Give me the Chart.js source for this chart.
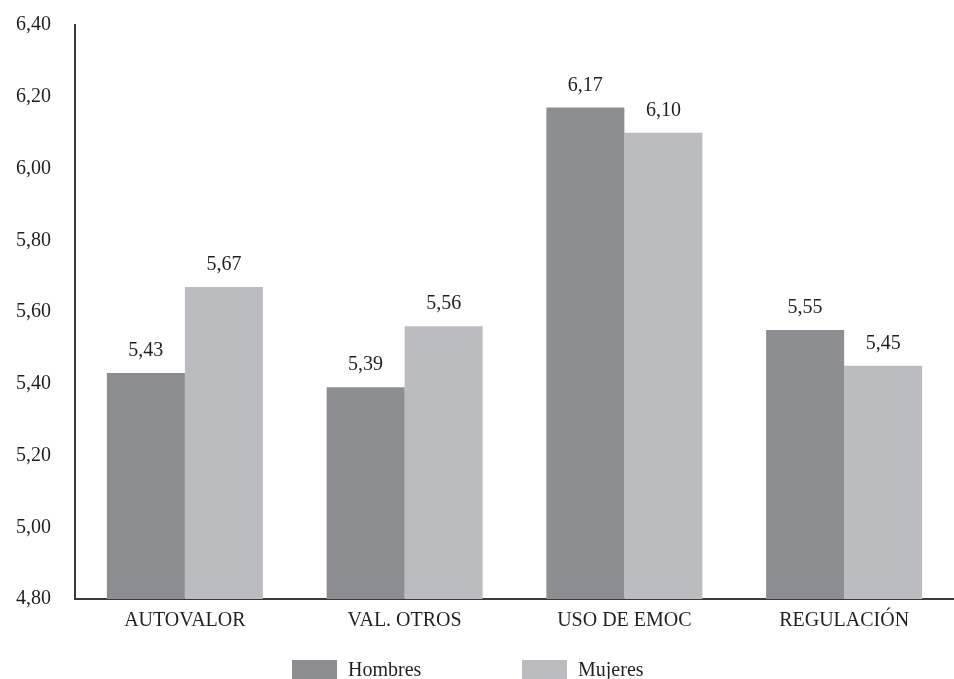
<!DOCTYPE html>
<html>
<head>
<meta charset="utf-8">
<script src="https://cdn.jsdelivr.net/npm/chart.js@4/dist/chart.umd.min.js"></script>
<style>
  html, body { margin: 0; padding: 0; background: #ffffff; }
  #wrap { width: 954px; height: 679px; position: relative; }
</style>
</head>
<body>
<div id="wrap"><canvas id="c" width="954" height="679"></canvas></div>
<script>
// Dimensions of emotional intelligence, mean scores by sex
const categories = ['AUTOVALOR', 'VAL. OTROS', 'USO DE EMOC', 'REGULACIÓN'];
const hombres = [5.43, 5.39, 6.17, 5.55];
const mujeres = [5.67, 5.56, 6.10, 5.45];
const seriesNames = ['Hombres', 'Mujeres'];
const yMin = 4.80, yMax = 6.40, yStep = 0.20;

const FONT = '"Liberation Serif"';
Chart.defaults.font.family = FONT;
const fmt = v => Number(v).toFixed(2).replace('.', ',');

// Value labels above each bar
const valueLabels = {
  id: 'valueLabels',
  afterDatasetsDraw(chart) {
    const ctx = chart.ctx;
    ctx.save();
    ctx.font = '20px ' + FONT;
    ctx.fillStyle = '#231f20';
    ctx.textAlign = 'center';
    ctx.textBaseline = 'alphabetic';
    chart.data.datasets.forEach((ds, i) => {
      chart.getDatasetMeta(i).data.forEach((bar, j) => {
        ctx.fillText(fmt(ds.data[j]), bar.x, bar.y - 17);
      });
    });
    ctx.restore();
  }
};

// Legend row under the category labels
const bottomLegend = {
  id: 'bottomLegend',
  afterDraw(chart) {
    const ctx = chart.ctx;
    const starts = [292, 522];
    ctx.save();
    ctx.font = '20px ' + FONT;
    ctx.textBaseline = 'middle';
    ctx.textAlign = 'left';
    chart.data.datasets.forEach((ds, i) => {
      const x = starts[i];
      ctx.fillStyle = ds.backgroundColor;
      ctx.fillRect(x, 660, 45, 20);
      ctx.fillStyle = '#231f20';
      ctx.fillText(ds.label, x + 56, 671);
    });
    ctx.restore();
  }
};

new Chart(document.getElementById('c'), {
  type: 'bar',
  data: {
    labels: categories,
    datasets: [
      { label: seriesNames[0], data: hombres, backgroundColor: '#8d8e91' },
      { label: seriesNames[1], data: mujeres, backgroundColor: '#bbbcbf' }
    ]
  },
  options: {
    responsive: false,
    animation: false,
    devicePixelRatio: 1,
    layout: { padding: { top: 25, right: 0, left: 0, bottom: 0 } },
    datasets: { bar: { categoryPercentage: 0.71, barPercentage: 1.0, borderWidth: 0 } },
    plugins: { legend: { display: false }, tooltip: { enabled: false } },
    scales: {
      x: {
        grid: { display: true, color: 'rgba(0,0,0,0)', drawTicks: false },
        border: { display: true, color: '#3a3a3a', width: 2 },
        ticks: { color: '#231f20', font: { family: FONT, size: 20 }, padding: 10 },
        afterFit(s) { s.height = 80; s.paddingLeft = 0; s.paddingRight = 0; }
      },
      y: {
        min: yMin, max: yMax,
        grid: { display: true, color: 'rgba(0,0,0,0)', drawTicks: false },
        border: { display: true, color: '#3a3a3a', width: 2 },
        ticks: { stepSize: yStep, color: '#231f20', font: { family: FONT, size: 20 }, padding: 24, callback: v => fmt(v) },
        afterFit(s) { s.width = 75; s.paddingTop = 0; s.paddingBottom = 0; }
      }
    }
  },
  plugins: [valueLabels, bottomLegend]
});
</script>
</body>
</html>
